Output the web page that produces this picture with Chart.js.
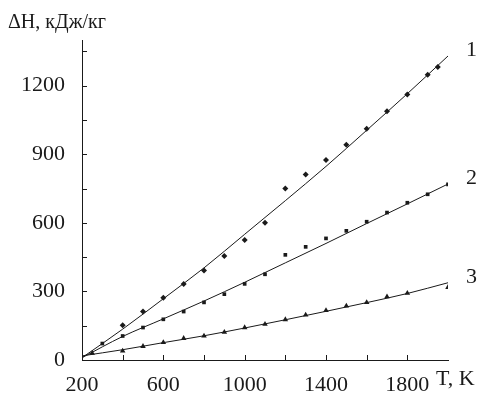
<!DOCTYPE html>
<html>
<head>
<meta charset="utf-8">
<script src="https://cdn.jsdelivr.net/npm/chart.js@4.4.1/dist/chart.umd.min.js"></script>
<style>
  html, body { margin: 0; padding: 0; background: #fff; }
  #wrap { width: 483px; height: 395px; }
</style>
</head>
<body>
<div id="wrap"><canvas id="chart" width="483" height="395"></canvas></div>
<script>
// Measured points, T (K) vs dH (kJ/kg)
const s1T = [400, 500, 600, 700, 800, 900, 1000, 1100, 1200, 1300, 1400, 1500, 1600, 1700, 1800, 1900, 1950];
const s1H = [152, 212, 272, 332, 392, 455, 525, 600, 750, 812, 875, 942, 1012, 1088, 1162, 1248, 1282];
const s2T = [300, 400, 500, 600, 700, 800, 900, 1000, 1100, 1200, 1300, 1400, 1500, 1600, 1700, 1800, 1900, 2000];
const s2H = [72, 105, 142, 178, 212, 252, 288, 333, 375, 460, 495, 532, 565, 605, 645, 688, 725, 768];
const s3T = [250, 400, 500, 600, 700, 800, 900, 1000, 1100, 1200, 1300, 1400, 1500, 1600, 1700, 1800, 2000];
const s3H = [30, 40, 60, 77, 95, 105, 122, 142, 157, 177, 197, 217, 237, 252, 277, 292, 318];

// Fitted curves
const fitT = [200, 400, 600, 800, 1000, 1200, 1400, 1600, 1800, 2000];
const fit1 = [10, 135, 268, 403, 550, 697, 847, 1005, 1165, 1330];
const fit2 = [10, 103, 180, 258, 340, 425, 510, 597, 683, 770];
const fit3 = [18, 45, 76, 106, 140, 176, 213, 251, 291, 338];
const curveNames = ['1', '2', '3'];

// Axes
const xLabelVals = [200, 600, 1000, 1400, 1800];
const yLabelVals = [0, 300, 600, 900, 1200];
const xTickMarks = [400, 600, 800, 1000, 1200, 1400, 1600, 1800];
const yTickMarks = [150, 300, 450, 600, 750, 900, 1050, 1200, 1350];

const ink = '#1a1a1a';
const serif = "'Liberation Serif', 'DejaVu Serif', serif";

function pts(xs, ys) {
  return xs.map((x, i) => ({ x, y: ys[i] }));
}

function curve(ys) {
  return {
    type: 'line',
    data: pts(fitT, ys),
    borderColor: ink,
    borderWidth: 1,
    pointRadius: 0,
    cubicInterpolationMode: 'monotone',
    fill: false,
  };
}

function markers(xs, ys, style, r) {
  return {
    type: 'scatter',
    data: pts(xs, ys),
    pointStyle: style,
    pointRadius: r,
    backgroundColor: ink,
    borderColor: ink,
    borderWidth: 0,
  };
}

// inward tick marks, curve numbers and axis captions
const decorations = {
  id: 'decorations',
  afterDraw(chart) {
    const { ctx, scales: { x, y } } = chart;
    ctx.save();
    ctx.strokeStyle = ink;
    ctx.lineWidth = 1;
    ctx.beginPath();
    xTickMarks.forEach(v => {
      const px = Math.round(x.getPixelForValue(v)) + 0.5;
      ctx.moveTo(px, y.bottom);
      ctx.lineTo(px, y.bottom - 5);
    });
    yTickMarks.forEach(v => {
      const py = Math.round(y.getPixelForValue(v)) + 0.5;
      ctx.moveTo(x.left, py);
      ctx.lineTo(x.left + 5, py);
    });
    ctx.stroke();

    ctx.fillStyle = ink;
    ctx.font = '22px ' + serif;
    ctx.textBaseline = 'middle';
    ctx.textAlign = 'left';
    [fit1, fit2, fit3].forEach((ys, i) => {
      const px = x.getPixelForValue(fitT[fitT.length - 1]);
      const py = y.getPixelForValue(ys[ys.length - 1]);
      ctx.fillText(curveNames[i], px + 18, py - 6);
    });
    ctx.fillText('T, K', 436, 379);
    ctx.font = '20px ' + serif;
    ctx.fillText('\u0394H, \u043a\u0414\u0436/\u043a\u0433', 8, 23);
    ctx.restore();
  }
};

new Chart(document.getElementById('chart'), {
  data: {
    datasets: [
      curve(fit1), curve(fit2), curve(fit3),
      markers(s1T, s1H, 'rectRot', 3),
      markers(s2T, s2H, 'rect', 2.6),
      markers(s3T, s3H, 'triangle', 3.2),
    ],
  },
  options: {
    responsive: false,
    animation: false,
    layout: { padding: { top: 40, right: 35, left: 0, bottom: 0 } },
    plugins: { legend: { display: false }, tooltip: { enabled: false } },
    scales: {
      x: {
        type: 'linear',
        min: 200,
        max: 2000,
        afterFit: (s) => { s.height = 35; },
        afterBuildTicks: (s) => { s.ticks = xLabelVals.map(v => ({ value: v })); },
        grid: { display: false },
        border: { display: true, color: ink, width: 1 },
        ticks: {
          color: ink, font: { family: serif, size: 22 }, padding: 4, maxRotation: 0, autoSkip: false,
          callback: (v) => String(v),
        },
      },
      y: {
        type: 'linear',
        min: 0,
        max: 1400,
        afterFit: (s) => { s.width = 82; },
        afterBuildTicks: (s) => { s.ticks = yLabelVals.map(v => ({ value: v })); },
        grid: { display: false },
        border: { display: true, color: ink, width: 1 },
        ticks: {
          color: ink, font: { family: serif, size: 22 }, padding: 9,
          callback: (v) => String(v),
        },
      },
    },
  },
  plugins: [decorations],
});
</script>
</body>
</html>
